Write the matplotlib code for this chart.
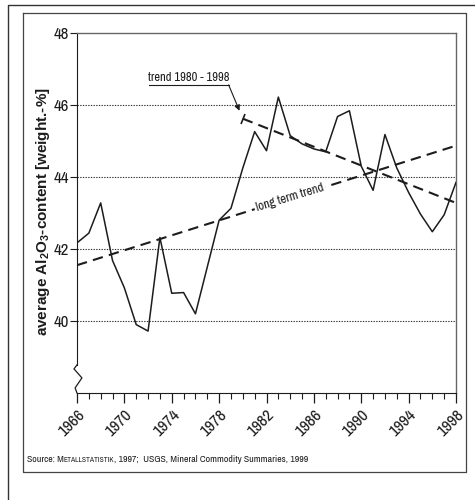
import matplotlib
matplotlib.use("Agg")
import matplotlib.pyplot as plt
from matplotlib.lines import Line2D
from matplotlib.markers import MarkerStyle
from matplotlib.transforms import Affine2D, blended_transform_factory

# Annual average alumina content of bauxite
years = list(range(1966, 1999))
al2o3 = [42.17, 42.44, 43.28, 41.68, 40.92, 39.90, 39.72, 42.32, 40.77, 40.79,
         40.20, 41.50, 42.80, 43.13, 44.25, 45.26, 44.73, 46.22, 45.15, 44.92,
         44.78, 44.70, 45.68, 45.84, 44.30, 43.63, 45.18, 44.25, 43.57, 42.97,
         42.48, 42.95, 43.85]

# Linear trends
long_years = [1966, 1998]
long_trend = [41.55, 44.87]
recent_years = [1980, 1998]
recent_trend = [45.62, 43.28]

year_ticks = list(range(1966, 1999, 4))
value_ticks = [40, 42, 44, 46, 48]
grid_values = [40, 42, 44, 46]

narrow = ["Archivo Narrow", "Roboto Condensed", "DejaVu Sans"]
plt.rcParams["mathtext.fontset"] = "custom"
plt.rcParams["mathtext.rm"] = "Liberation Sans:bold"
plt.rcParams["mathtext.it"] = "Liberation Sans:bold"
plt.rcParams["mathtext.bf"] = "Liberation Sans:bold"

fig = plt.figure(figsize=(4.75, 5.0), dpi=100)
ax = fig.add_axes([77 / 475, 1 - 393 / 500, 379 / 475, 360 / 500])
ax.set_xlim(1966, 1998)
ax.set_ylim(38, 48)

ink = "#1c1c1c"
ax.plot(years, al2o3, color=ink, lw=1.1, zorder=3)

for v in grid_values:
    ax.axhline(v, color="#333333", lw=0.8, ls=(0, (1.2, 1.2)), zorder=1)

dash = (0, (5, 3))
ax.plot(long_years, long_trend, color=ink, lw=1.5, ls=dash, zorder=2)
ax.plot(recent_years, recent_trend, color=ink, lw=1.5, ls=dash, zorder=2)
ax.plot(recent_years[0], recent_trend[0], ls="none", color=ink,
        marker=MarkerStyle("|", transform=Affine2D().rotate_deg(-20)),
        markersize=8, mew=1.2, zorder=3)

ax.text(1984.0, 43.42, "long term trend", rotation=17, rotation_mode="anchor",
        ha="center", va="center", fontsize=9.2, family=narrow, color=ink,
        bbox=dict(facecolor="white", edgecolor="none", pad=1.5), zorder=4)

# callout for the 1980-1998 trend
ax.text(1975.4, 46.62, "trend 1980 - 1998", ha="center", va="bottom",
        fontsize=9, family=narrow, color=ink)
ax.plot([1972.1, 1978.8], [46.56, 46.56], color=ink, lw=0.8)
ax.annotate("", xy=(1979.72, 45.84), xytext=(1978.8, 46.56),
            arrowprops=dict(arrowstyle="-|>", color=ink, lw=0.8,
                            mutation_scale=8, shrinkA=0, shrinkB=0))

# axes frame with a break near the bottom of the value axis
for s in ("top", "right"):
    ax.spines[s].set_color("#666666")
    ax.spines[s].set_linewidth(1.0)
ax.spines["bottom"].set_color(ink)
ax.spines["left"].set_color(ink)
ax.spines["left"].set_bounds(38.78, 48)
brk = blended_transform_factory(ax.transAxes, ax.transData)
ax.plot([0, -0.008, 0.013, -0.005, 0], [38.78, 38.67, 38.42, 38.14, 38.0],
        color=ink, lw=0.9, transform=brk, clip_on=False)

ax.set_yticks(value_ticks)
ax.set_yticklabels([str(v) for v in value_ticks], family=narrow, fontsize=12)
ax.set_xticks(year_ticks)
ax.set_xticks(years, minor=True)
ax.set_xticklabels([str(y) for y in year_ticks], family=narrow, fontsize=12,
                   rotation=45, ha="right", va="top", rotation_mode="anchor")
ax.tick_params(axis="y", length=5, width=0.8, pad=1, color=ink, labelcolor=ink)
ax.tick_params(axis="x", which="major", length=7, width=0.9, pad=3,
               color=ink, labelcolor=ink)
ax.tick_params(axis="x", which="minor", length=4, width=0.8, color=ink)

ax.set_ylabel(r"average Al$_\mathrm{2}$O$_\mathrm{3}$-content [weight.-%]",
              fontsize=11, fontweight="bold", family="Liberation Sans",
              color=ink)
ax.yaxis.set_label_coords(-0.066, 0.505)

# page frames
fig.add_artist(Line2D([23 / 475, 466 / 475, 466 / 475, 23 / 475, 23 / 475],
                      [1 - 13 / 500, 1 - 13 / 500, 1 - 472 / 500, 1 - 472 / 500, 1 - 13 / 500],
                      transform=fig.transFigure, color="#444444", lw=0.9))
fig.add_artist(Line2D([8 / 475, 8 / 475, 1.0], [0.0, 1 - 5 / 500, 1 - 5 / 500],
                      transform=fig.transFigure, color="#333333", lw=1.0))

# source line with small capitals
fig.canvas.draw()
renderer = fig.canvas.get_renderer()
parts = [("Source: M", 7.1), ("ETALLSTATISTIK", 5.5),
         (", 1997;  USGS, Mineral Commodity Summaries, 1999", 7.1)]
x_px, y_px = 27, 500 - 462
for txt, size in parts:
    t = fig.text(x_px / 475, y_px / 500, txt, fontsize=size, family=narrow,
                 color=ink, ha="left", va="baseline")
    x_px = t.get_window_extent(renderer).x1

fig.savefig("out.png", dpi=100)
